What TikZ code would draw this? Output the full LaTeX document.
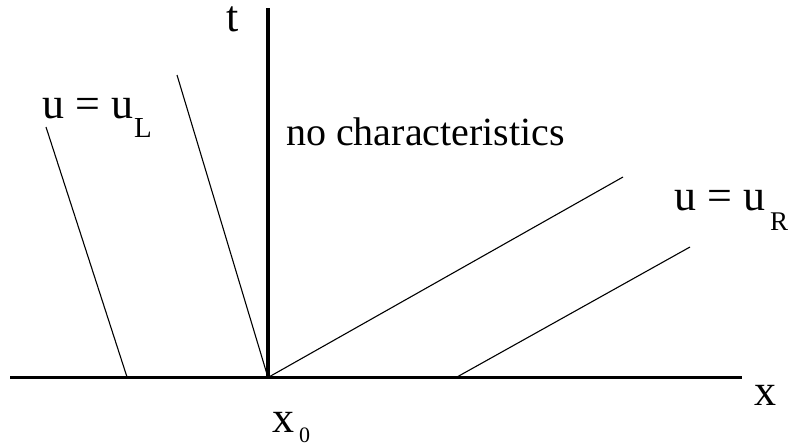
\documentclass[tikz,border=0pt]{standalone}
\usepackage{fontspec}
\setmainfont{Liberation Serif}
\begin{document}
\begin{tikzpicture}[x=1pt,y=-1pt,
  axisline/.style={line width=3.6pt},
  charline/.style={line width=1.1pt},
  lbl/.style={anchor=base west, inner sep=0pt, font=\fontsize{44}{44}\selectfont},
  sublbl/.style={font=\fontsize{29}{29}\selectfont}]
\useasboundingbox (0,0) rectangle (790,444);
% axes
\coordinate (xl) at (10,377.5);
\coordinate (xr) at (742,377.5);
\coordinate (O) at (268,377.5);
\coordinate (tt) at (268,8);
\draw[axisline] (xl) -- (xr);
\draw[axisline] (O) -- (tt);
% characteristics
\coordinate (a0) at (127,377);
\coordinate (a1) at (46,127);
\coordinate (b1) at (177,75);
\coordinate (c1) at (623,177);
\coordinate (d0) at (457,377);
\coordinate (d1) at (690,247);
\draw[charline] (a0) -- (a1);
\draw[charline] (O) -- (b1);
\draw[charline] (O) -- (c1);
\draw[charline] (d0) -- (d1);
% labels
\node[lbl] (tlab) at (226,32) {t};
\node[lbl] (xlab) at (754,405) {x};
\node[lbl] (x0lab) at (272,432) {x\kern5pt\raisebox{-10pt}{\fontsize{22}{22}\selectfont 0}};
\node[lbl, font=\fontsize{40}{40}\selectfont] (nochar) at (286,145) {no characteristics};
\node[lbl] (uL) at (42,118) {u = u\kern1pt\raisebox{-19pt}{\fontsize{29}{29}\selectfont L}};
\node[lbl] (uR) at (674,210) {u = u\kern5pt\raisebox{-20pt}{\fontsize{27}{27}\selectfont R}};
\end{tikzpicture}
\end{document}
